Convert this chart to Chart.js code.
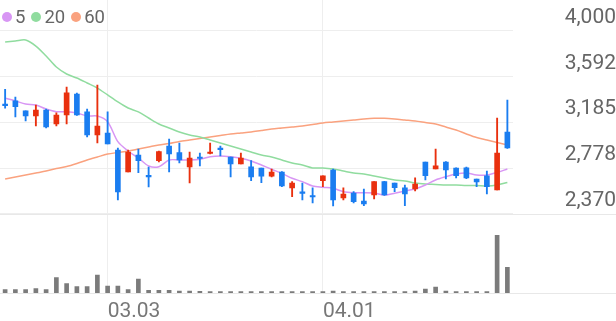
<!DOCTYPE html>
<html>
<head>
<meta charset="utf-8">
<script src="https://cdn.jsdelivr.net/npm/chart.js@4/dist/chart.umd.min.js"></script>
<style>
  html, body { margin: 0; padding: 0; background: #fff; }
  #wrap { position: relative; width: 616px; height: 321px; }
  #legend { position: absolute; left: 2px; top: 6px; display: flex; align-items: center;
            font: 18.5px Roboto, sans-serif; color: #666; line-height: 22px; }
  #legend .item { display: flex; align-items: center; margin-right: 6px; }
  #legend .dot { width: 10px; height: 10px; border-radius: 50%; margin-right: 3px; }
</style>
</head>
<body>
<div id="wrap">
  <canvas id="stockChart" width="616" height="321"></canvas>
  <div id="legend"></div>
</div>
<script>
const dates = ['02.18','02.19','02.20','02.21','02.24','02.25','02.26','02.27','02.28','03.02',
  '03.03','03.04','03.05','03.06','03.09','03.10','03.11','03.12','03.13','03.16',
  '03.17','03.18','03.19','03.20','03.23','03.24','03.25','03.26','03.27','03.30',
  '03.31','04.01','04.02','04.03','04.06','04.07','04.08','04.09','04.10','04.13',
  '04.14','04.16','04.17','04.20','04.21','04.22','04.23','04.24','04.27','04.28'];
const tickDates = ['03.03', '04.01'];
const priceTicks = [2370, 2778, 3185, 3592, 4000];

const open = [3345, 3379, 3290, 3243, 3296, 3172, 3252, 3439, 3279, 3074,
  3091, 2940, 2744, 2895, 2708, 2845, 2976, 2916, 2789, 2873,
  2909, 2953, 2878, 2815, 2791, 2780, 2708, 2744, 2602, 2562,
  2530, 2667, 2762, 2513, 2557, 2486, 2539, 2658, 2646, 2602,
  2593, 2833, 2771, 2833, 2780, 2782, 2682, 2711, 2584, 3100];
const high = [3481, 3412, 3290, 3341, 3305, 3270, 3501, 3448, 3305, 3519,
  3279, 2958, 2940, 2949, 2789, 2931, 3038, 3002, 2922, 2913,
  3002, 2976, 2878, 2913, 2845, 2780, 2771, 2747, 2658, 2646,
  2602, 2711, 2771, 2602, 2569, 2593, 2658, 2660, 2646, 2628,
  2693, 2833, 2949, 2836, 2782, 2789, 2682, 2753, 3225, 3385];
const low = [3312, 3234, 3198, 3154, 3136, 3154, 3172, 3247, 3056, 3002,
  2994, 2495, 2744, 2738, 2611, 2833, 2744, 2824, 2646, 2798,
  2904, 2887, 2700, 2815, 2667, 2649, 2700, 2613, 2524, 2495,
  2468, 2613, 2441, 2495, 2468, 2444, 2504, 2535, 2569, 2444,
  2575, 2673, 2771, 2682, 2691, 2685, 2613, 2548, 2584, 2955];
const close = [3335, 3326, 3243, 3296, 3145, 3252, 3450, 3252, 3074, 3154,
  2994, 2566, 2922, 2845, 2700, 2925, 2904, 2851, 2869, 2864,
  2918, 2944, 2815, 2869, 2700, 2708, 2744, 2619, 2646, 2553,
  2521, 2711, 2495, 2548, 2480, 2459, 2658, 2539, 2604, 2548,
  2637, 2711, 2798, 2762, 2711, 2691, 2655, 2613, 2913, 2958];
const volume = [66000, 66000, 66000, 86000, 66000, 306000, 186000, 126000, 126000, 360000,
  140000, 140000, 66000, 280000, 54000, 54000, 54000, 40000, 40000, 34000,
  30000, 30000, 30000, 30000, 30000, 30000, 30000, 30000, 30000, 26000,
  26000, 26000, 40000, 28000, 28000, 28000, 28000, 28000, 28000, 28000,
  40000, 80000, 120000, 40000, 26000, 26000, 26000, 26000, 1154000, 514000];

const ma5 = [3401, 3377, 3350, 3341, 3305, 3281, 3281, 3270, 3243, 3243,
  3192, 3014, 2931, 2869, 2798, 2791, 2851, 2851, 2851, 2857,
  2880, 2887, 2880, 2866, 2842, 2806, 2768, 2732, 2688, 2658,
  2619, 2608, 2599, 2569, 2560, 2560, 2557, 2539, 2554, 2575,
  2593, 2628, 2673, 2702, 2726, 2735, 2717, 2717, 2740, 2771];
const ma20 = [3902, 3911, 3920, 3866, 3777, 3679, 3617, 3581, 3537, 3492,
  3430, 3368, 3314, 3279, 3225, 3172, 3136, 3100, 3074, 3056,
  3029, 3002, 2976, 2949, 2922, 2895, 2878, 2851, 2824, 2806,
  2780, 2780, 2771, 2753, 2735, 2726, 2708, 2691, 2673, 2664,
  2646, 2637, 2633, 2628, 2628, 2624, 2624, 2619, 2628, 2651];
const ma60 = [2682, 2700, 2717, 2735, 2753, 2775, 2793, 2820, 2851, 2878,
  2904, 2918, 2931, 2949, 2967, 2985, 2998, 3016, 3029, 3042,
  3056, 3069, 3082, 3091, 3100, 3114, 3127, 3136, 3145, 3154,
  3167, 3181, 3189, 3198, 3207, 3216, 3222, 3222, 3216, 3207,
  3198, 3185, 3172, 3145, 3118, 3083, 3051, 3029, 3007, 2985];

const upColor = '#e9300e';
const downColor = '#1a7df0';
const gridColor = '#eeeeee';
const candleColors = close.map((c, i) => c >= open[i] ? upColor : downColor);

// full-width separators above and below the volume panel
const separatorLines = {
  id: 'separatorLines',
  beforeDatasetsDraw(chart) {
    const { ctx, chartArea, scales } = chart;
    const ys = [Math.round(scales.y.getPixelForValue(priceTicks[0])) + 0.5, Math.round(chartArea.bottom) + 0.5];
    ctx.save();
    ctx.strokeStyle = '#e8e8e8';
    ctx.lineWidth = 1;
    ys.forEach(y => {
      ctx.beginPath();
      ctx.moveTo(0, y);
      ctx.lineTo(chart.width, y);
      ctx.stroke();
    });
    ctx.restore();
  }
};

const maLine = (label, data, color) => ({
  type: 'line', label, data, borderColor: color, backgroundColor: color,
  borderWidth: 1.5, pointRadius: 0, tension: 0.3, yAxisID: 'y', order: 3
});

const ctx = document.getElementById('stockChart').getContext('2d');
const chart = new Chart(ctx, {
  type: 'bar',
  data: {
    labels: dates,
    datasets: [
      maLine('5', ma5, '#d896f4'),
      maLine('20', ma20, '#90dc9f'),
      maLine('60', ma60, '#faa27f'),
      {
        label: 'wick', data: low.map((l, i) => [l, high[i]]),
        backgroundColor: candleColors, barThickness: 1.2, grouped: false, yAxisID: 'y', order: 1
      },
      {
        label: 'body', data: open.map((o, i) => [o, close[i]]),
        backgroundColor: candleColors, barThickness: 5, minBarLength: 1.5, grouped: false, yAxisID: 'y', order: 0
      },
      {
        label: 'volume', data: volume,
        backgroundColor: '#7b7b7b', barThickness: 4, grouped: false, yAxisID: 'yv', order: 2
      }
    ]
  },
  options: {
    responsive: false,
    animation: false,
    layout: { padding: 0 },
    plugins: { legend: { display: false }, tooltip: { enabled: false } },
    scales: {
      x: {
        offset: true,
        grid: { offset: false, color: gridColor, drawTicks: false },
        border: { display: false },
        ticks: {
          autoSkip: false, maxRotation: 0, align: 'start', padding: 6,
          color: '#777', font: { family: 'Roboto', size: 21 }
        },
        afterBuildTicks: s => { s.ticks = s.ticks.filter(t => tickDates.includes(dates[t.value])); },
        afterFit: s => { s.height = 28; s.paddingLeft = 0; s.paddingRight = 0; }
      },
      y: {
        position: 'right',
        min: 1666.3,
        max: 4276.1,
        grid: { color: gridColor, drawTicks: false },
        border: { display: false },
        afterBuildTicks: s => { s.ticks = priceTicks.map(v => ({ value: v })); },
        ticks: {
          crossAlign: 'far', padding: 48, labelOffset: -13.5,
          color: '#666', font: { family: 'Roboto', size: 21 },
          callback: v => v.toLocaleString('en-US')
        },
        afterFit: s => { s.width = 103.5; s.paddingTop = 0; s.paddingBottom = 0; }
      },
      yv: { display: false, min: 0, max: 5860000 }
    }
  },
  plugins: [separatorLines]
});

// legend for the moving averages
const legend = document.getElementById('legend');
chart.data.datasets.filter(d => d.type === 'line').forEach(d => {
  const item = document.createElement('span');
  item.className = 'item';
  const dot = document.createElement('span');
  dot.className = 'dot';
  dot.style.background = d.borderColor;
  item.appendChild(dot);
  item.appendChild(document.createTextNode(d.label));
  legend.appendChild(item);
});
</script>
</body>
</html>
